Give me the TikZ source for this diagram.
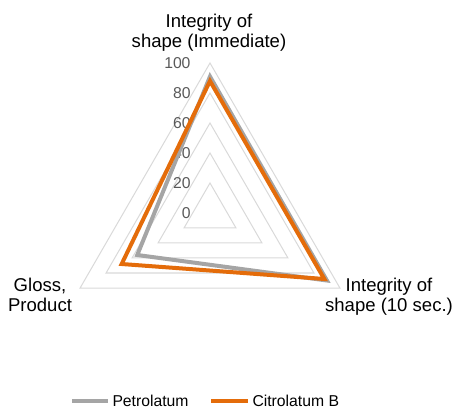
\documentclass[tikz,border=0pt]{standalone}
\usepackage{fontspec}
\setmainfont{Liberation Sans}
\definecolor{petro}{RGB}{165,165,165}
\definecolor{citro}{RGB}{228,108,10}
\definecolor{gridgray}{RGB}{217,217,217}
\definecolor{ticktext}{RGB}{89,89,89}

\tikzset{every picture/.style={line width=0.75pt}}
\tikzset{
	catlbl/.style={align=center,inner sep=0pt,font=\fontsize{13.9}{15.3}\selectfont},
	ticklbl/.style={anchor=east,inner sep=0pt,text=ticktext,font=\fontsize{11.8}{13}\selectfont},
	leglbl/.style={anchor=west,inner sep=0pt,font=\fontsize{11.8}{13}\selectfont},
	series/.style={line width=3pt}
}

\begin{document}
\begin{tikzpicture}[x=0.75pt,y=0.75pt,yscale=-1,xscale=1]
	\path[use as bounding box] (0,0) rectangle (456,409);
	
	% centre of the chart, 1.5 px per unit
	\coordinate (c) at (210,213);
	
	%Grid rings
	\foreach \v in {20,40,...,100}
	\draw [gridgray] ([shift={(270:1.5*\v)}]c) -- ([shift={(150:1.5*\v)}]c) -- ([shift={(30:1.5*\v)}]c) -- cycle ;
	
	% Tick labels
	\foreach \v in {0,20,...,100}
	\node [ticklbl] (t\v) at ({191},{213-1.5*\v}) {\v};
	
	% Category labels
	\node [catlbl,anchor=south] (imm) at (209,52) {Integrity of\\shape (Immediate)};
	\node [catlbl] (gloss) at (40,295) {Gloss,\\Product};
	\node [catlbl] (ten) at (389,297) {Integrity of\\shape (10 sec.)};
	
	%Series Petrolatum
	\draw [series,petro] ([shift={(270:1.5*91)}]c) -- ([shift={(150:1.5*56)}]c) -- ([shift={(30:1.5*90)}]c) -- cycle ;
	%Series Citrolatum B
	\draw [series,citro] ([shift={(270:1.5*88)}]c) -- ([shift={(150:1.5*68)}]c) -- ([shift={(30:1.5*88)}]c) -- cycle ;
	
	% Legend
	\coordinate (lp1) at (72,401);
	\coordinate (lp2) at (108,401);
	\draw [series,petro] (lp1) -- (lp2) ;
	\node [leglbl] (lpt) at ([xshift=3]lp2) {Petrolatum};
	\coordinate (lc1) at (211,401);
	\coordinate (lc2) at (248,401);
	\draw [series,citro] (lc1) -- (lc2) ;
	\node [leglbl] (lct) at ([xshift=3]lc2) {Citrolatum B};
	
\end{tikzpicture}
\end{document}
